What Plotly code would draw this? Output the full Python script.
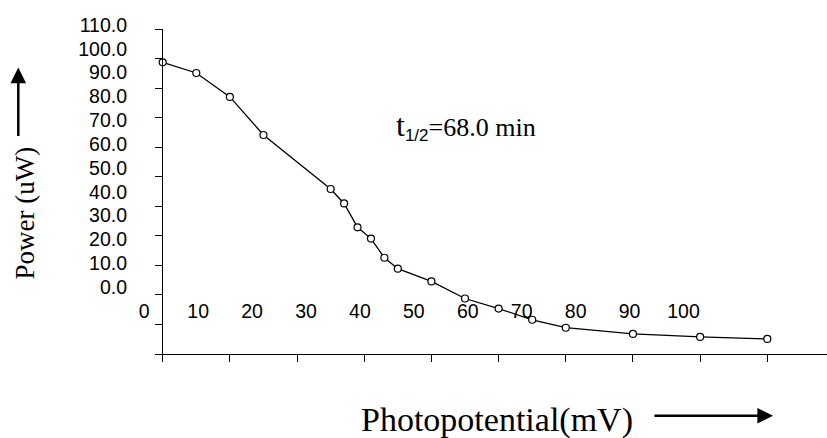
import plotly.graph_objects as go

# ---- data ----
time_vals = [0, 5, 10, 15, 25, 27, 29, 31, 33, 35, 40, 45, 50, 55, 60, 70, 80, 90]
power_vals = [98.8, 95.2, 87.1, 74.2, 55.9, 51.0, 42.9, 39.1, 32.6, 28.9, 24.6,
              18.8, 15.4, 11.6, 8.9, 6.8, 5.8, 5.1]
x_tick_labels = [0, 10, 20, 30, 40, 50, 60, 70, 80, 90, 100]
y_tick_labels = [0, 10, 20, 30, 40, 50, 60, 70, 80, 90, 100, 110]
x_tick_marks = [0, 10, 20, 30, 40, 50, 60, 70, 80, 90]
y_tick_marks = [0, 10, 20, 30, 40, 50, 60, 70, 80, 90, 100, 110]

# ---- layout geometry (pixels) ----
WIDTH, HEIGHT = 827, 438
L, R, T, B = 130, 827, 18, 354
W, H = R - L, B - T

def px(p):
    return (p - L) / W

def py(p):
    return (B - p) / H

# main axes geometry
x0_pix, x_scale = 162.7, 6.718
y_top_pix = 29.3
# displaced tick label geometry
ylab0, ylab_scale = 287.2, 2.385
xlab0, xlab_scale = 144.2, 5.393

sans = "Liberation Sans, Arial, sans-serif"
serif = "Liberation Serif, Times New Roman, serif"

fig = go.Figure()
# helper trace for label axes (drawn first)
fig.add_trace(go.Scatter(x=[0], y=[0], xaxis="x2", yaxis="y2", mode="markers",
                         marker=dict(opacity=0), showlegend=False, hoverinfo="skip"))
fig.add_trace(go.Scatter(
    x=time_vals, y=power_vals, mode="lines+markers",
    line=dict(color="black", width=1.3),
    marker=dict(symbol="circle", size=7, color="white",
                line=dict(color="black", width=1.2)),
    showlegend=False, hoverinfo="skip", cliponaxis=False,
))

fig.update_layout(
    width=WIDTH, height=HEIGHT,
    margin=dict(l=L, r=WIDTH - R, t=T, b=HEIGHT - B),
    paper_bgcolor="white", plot_bgcolor="rgba(0,0,0,0)",
    xaxis=dict(domain=[px(x0_pix), 1], range=[0, (R - x0_pix) / x_scale],
               showgrid=False, zeroline=False, showline=True, linecolor="black",
               linewidth=1.4, ticks="outside", ticklen=7, tickwidth=1.3,
               tickcolor="black", tickvals=x_tick_marks, showticklabels=False,
               anchor="y"),
    yaxis=dict(domain=[0, (B - y_top_pix) / H], range=[0, 110],
               showgrid=False, zeroline=False, showline=True, linecolor="black",
               linewidth=1.4, ticks="outside", ticklen=7, tickwidth=1.3,
               tickcolor="black", tickvals=y_tick_marks, showticklabels=False,
               anchor="x"),
    xaxis2=dict(domain=[0, 1], anchor="free", position=py(297),
                range=[(L - xlab0) / xlab_scale, (R - xlab0) / xlab_scale],
                showgrid=False, zeroline=False, showline=False, ticks="",
                tickvals=x_tick_labels, ticktext=[str(v) for v in x_tick_labels],
                tickfont=dict(family=sans, size=19.5, color="black")),
    yaxis2=dict(domain=[0, 1], anchor="free", position=0,
                range=[(ylab0 - B) / ylab_scale, (ylab0 - T) / ylab_scale],
                showgrid=False, zeroline=False, showline=False, ticks="",
                ticklabelstandoff=3,
                tickvals=y_tick_labels, ticktext=[f"{v:.1f}" for v in y_tick_labels],
                tickfont=dict(family=sans, size=19.5, color="black")),
)

# annotation t1/2
fig.add_annotation(
    x=px(394), y=py(126), xref="paper", yref="paper", xanchor="left", yanchor="middle",
    showarrow=False,
    text=("<span style='font-size:32px'>t</span>"
          "<sub><span style='font-family:Liberation Sans, Arial;font-size:17px'>1/2</span></sub>"
          "=68.0 min"),
    font=dict(family=serif, size=26, color="black"),
)

# axis titles
fig.add_annotation(x=px(496.5), y=py(420), xref="paper", yref="paper",
                   text="Photopotential(mV)", showarrow=False,
                   xanchor="center", yanchor="middle",
                   font=dict(family=serif, size=34, color="black"))
fig.add_annotation(x=px(24), y=py(213.5), xref="paper", yref="paper",
                   text="Power (uW)", showarrow=False, textangle=-90,
                   xanchor="center", yanchor="middle",
                   font=dict(family=serif, size=27, color="black"))

# arrows
fig.add_annotation(x=px(18.3), y=py(67.5), xref="paper", yref="paper", text="",
                   showarrow=True, ax=0, ay=70, arrowhead=2, arrowsize=1.25,
                   arrowwidth=2.5, arrowcolor="black")
fig.add_annotation(x=px(773), y=py(415.7), xref="paper", yref="paper", text="",
                   showarrow=True, ax=-120, ay=0, arrowhead=2, arrowsize=1.25,
                   arrowwidth=2.5, arrowcolor="black")

fig.write_html("out.html")
